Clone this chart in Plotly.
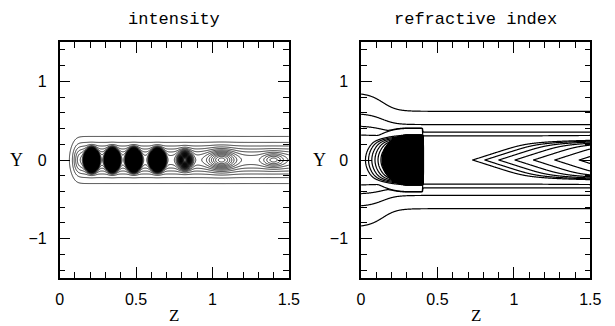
import numpy as np
import plotly.graph_objects as go

# ---------------- data ----------------
z_range = [0.0, 1.5]
y_range = [-1.5, 1.5]
x_tick_vals = [0, 0.5, 1, 1.5]
x_tick_text = ["0", "0.5", "1", "1.5"]
y_tick_vals = [-1, 0, 1]
y_tick_text = ["\u22121", "0", "1"]
panel_titles = ["intensity", "refractive index"]

# intensity: focal spots along the beam axis (z position, peak, widths)
spot_z = [0.21, 0.345, 0.485, 0.64, 0.82, 1.06, 1.40]
spot_amp = [30.0, 28.0, 26.0, 22.0, 2.5, 0.7, 0.4]
spot_wz = [0.025, 0.025, 0.026, 0.028, 0.035, 0.08, 0.065]
spot_wy = [0.078, 0.078, 0.078, 0.078, 0.085, 0.11, 0.08]
beam_amp = 0.6
beam_wy = 0.19
beam_start = 0.10
intensity_levels = dict(start=0.05, end=35.0, size=0.1)

# refractive index: outer profile, flat core, front block, chevron growth
index_axis_start, index_axis_end = 0.65, 1.0
index_width_start, index_width_end = 0.466, 0.26
index_core_wy = 0.27
index_outer_levels = dict(start=0.15, end=0.45, size=0.1)
index_inner_levels = dict(start=1.05, end=1.75, size=0.1)
index_black_above = 1.8
chevron_z0, chevron_tau, chevron_gain = 0.694, 0.5, 0.72
chevron_slope = 0.62
front_zc, front_rz, front_ry, front_cut = 0.30, 0.28, 0.40, 0.40
front_step, front_slope = 0.36, 1.2
block_ry, block_core = 0.55, 0.45


def sig(x):
    return 1.0 / (1.0 + np.exp(-np.clip(x, -60, 60)))


# ---------------- intensity field ----------------
zi = np.linspace(0, 1.5, 451)
yi = np.linspace(-0.5, 0.5, 241)
Zi, Yi = np.meshgrid(zi, yi)
I = beam_amp * sig((Zi - beam_start) / 0.015) * np.exp(-(Yi / beam_wy) ** 2)
for zc, a, wz, wy in zip(spot_z, spot_amp, spot_wz, spot_wy):
    I = I + a * np.exp(-((Zi - zc) / wz) ** 2 - (Yi / wy) ** 2)
I = np.round(I, 4)

# ---------------- refractive index field ----------------
zn = np.linspace(0, 1.5, 451)
yn = np.linspace(-1.0, 1.0, 401)
Zn, Yn = np.meshgrid(zn, yn)
A = index_axis_start + (index_axis_end - index_axis_start) * sig((Zn - 0.2) / 0.05)
S = index_width_end + (index_width_start - index_width_end) * (1 - sig((Zn - 0.15) / 0.05))
P = A / (1 + (Yn / S) ** 2)
core = np.exp(-(np.abs(Yn) / index_core_wy) ** 8)
Pc = P + (A - P) * core
zeff = Zn - np.abs(Yn) / chevron_slope
Q = np.where(zeff > chevron_z0, chevron_gain * np.log1p(np.maximum(zeff - chevron_z0, 0) / chevron_tau), 0.0)
dzf = np.where(Zn < front_zc, (Zn - front_zc) / front_rz, 0.0)
U = np.clip(1 - np.sqrt(dzf ** 2 + (Yn / front_ry) ** 2), -1, 1)
Ub = np.clip(1 - np.sqrt(dzf ** 2 + (Yn / block_ry) ** 2), -1, 1)
F = (sig(U / 0.008) * (front_step + front_slope * U)
     + 30 * sig((Ub - block_core) / 0.004)) * sig((front_cut - Zn) / 0.0012)
N = np.round(Pc + Q * core + F, 4)

fig = go.Figure()

fig.add_trace(go.Contour(x=zi, y=yi, z=I, xaxis="x", yaxis="y", autocontour=False,
                         contours=dict(coloring="none", **intensity_levels),
                         line=dict(color="black", width=0.8), showscale=False, hoverinfo="skip"))
fig.add_trace(go.Contour(x=zn, y=yn, z=N, xaxis="x2", yaxis="y2", autocontour=False,
                         contours=dict(coloring="none", **index_outer_levels),
                         line=dict(color="black", width=1.2), showscale=False, hoverinfo="skip"))
fig.add_trace(go.Contour(x=zn, y=yn, z=N, xaxis="x2", yaxis="y2", autocontour=False,
                         contours=dict(coloring="none", **index_inner_levels),
                         line=dict(color="black", width=1.2), showscale=False, hoverinfo="skip"))
fig.add_trace(go.Contour(x=zn, y=yn, z=N, xaxis="x2", yaxis="y2",
                         contours=dict(type="constraint", operation="<", value=index_black_above),
                         fillcolor="black", line=dict(width=0), showscale=False, hoverinfo="skip"))


def xaxis(domain, anchor):
    return dict(domain=domain, anchor=anchor, range=z_range, showline=True, linecolor="black",
                linewidth=1.5, mirror="ticks", ticks="inside", ticklen=11, tickwidth=1.2,
                tickcolor="black", tickvals=x_tick_vals, ticktext=x_tick_text,
                minor=dict(dtick=0.1, tick0=0, ticklen=6, tickwidth=1, tickcolor="black", ticks="inside"),
                showgrid=False, zeroline=False, ticklabelstandoff=6,
                tickfont=dict(family="Liberation Sans", size=16, color="black"))


def yaxis(domain, anchor):
    return dict(domain=domain, anchor=anchor, range=y_range, showline=True, linecolor="black",
                linewidth=1.5, mirror="ticks", ticks="inside", ticklen=11, tickwidth=1.2,
                tickcolor="black", tickvals=y_tick_vals, ticktext=y_tick_text,
                minor=dict(dtick=0.2, tick0=0, ticklen=6, tickwidth=1, tickcolor="black", ticks="inside"),
                showgrid=False, zeroline=False, ticklabelstandoff=8,
                tickfont=dict(family="Liberation Sans", size=16, color="black"))


W, Hh = 615, 326
left_dom = [57 / W, 292 / W]
right_dom = [366 / W, 601 / W]
y_dom = [48 / Hh, 284 / Hh]

annotations = []
for dom, title in zip([left_dom, right_dom], panel_titles):
    cx = (dom[0] + dom[1]) / 2
    annotations.append(dict(text=title, x=cx, y=1 - 19 / Hh, xref="paper", yref="paper",
                            showarrow=False, xanchor="center", yanchor="middle",
                            font=dict(family="Liberation Mono", size=17, color="black")))
    annotations.append(dict(text="Z", x=cx, y=1 - 315 / Hh, xref="paper", yref="paper",
                            showarrow=False, xanchor="center", yanchor="middle",
                            font=dict(family="Liberation Serif", size=17, color="black")))
for xpx in [13, 323]:
    annotations.append(dict(text="Y", x=xpx / W, y=1 - 160 / Hh, xref="paper", yref="paper",
                            showarrow=False, xanchor="center", yanchor="middle",
                            font=dict(family="Liberation Serif", size=18, color="black")))

fig.update_layout(
    width=W, height=Hh, margin=dict(l=0, r=0, t=0, b=0),
    paper_bgcolor="white", plot_bgcolor="white", showlegend=False,
    xaxis=xaxis(left_dom, "y"), yaxis=yaxis(y_dom, "x"),
    xaxis2=xaxis(right_dom, "y2"), yaxis2=yaxis(y_dom, "x2"),
    annotations=annotations,
)

fig.write_html("out.html")
